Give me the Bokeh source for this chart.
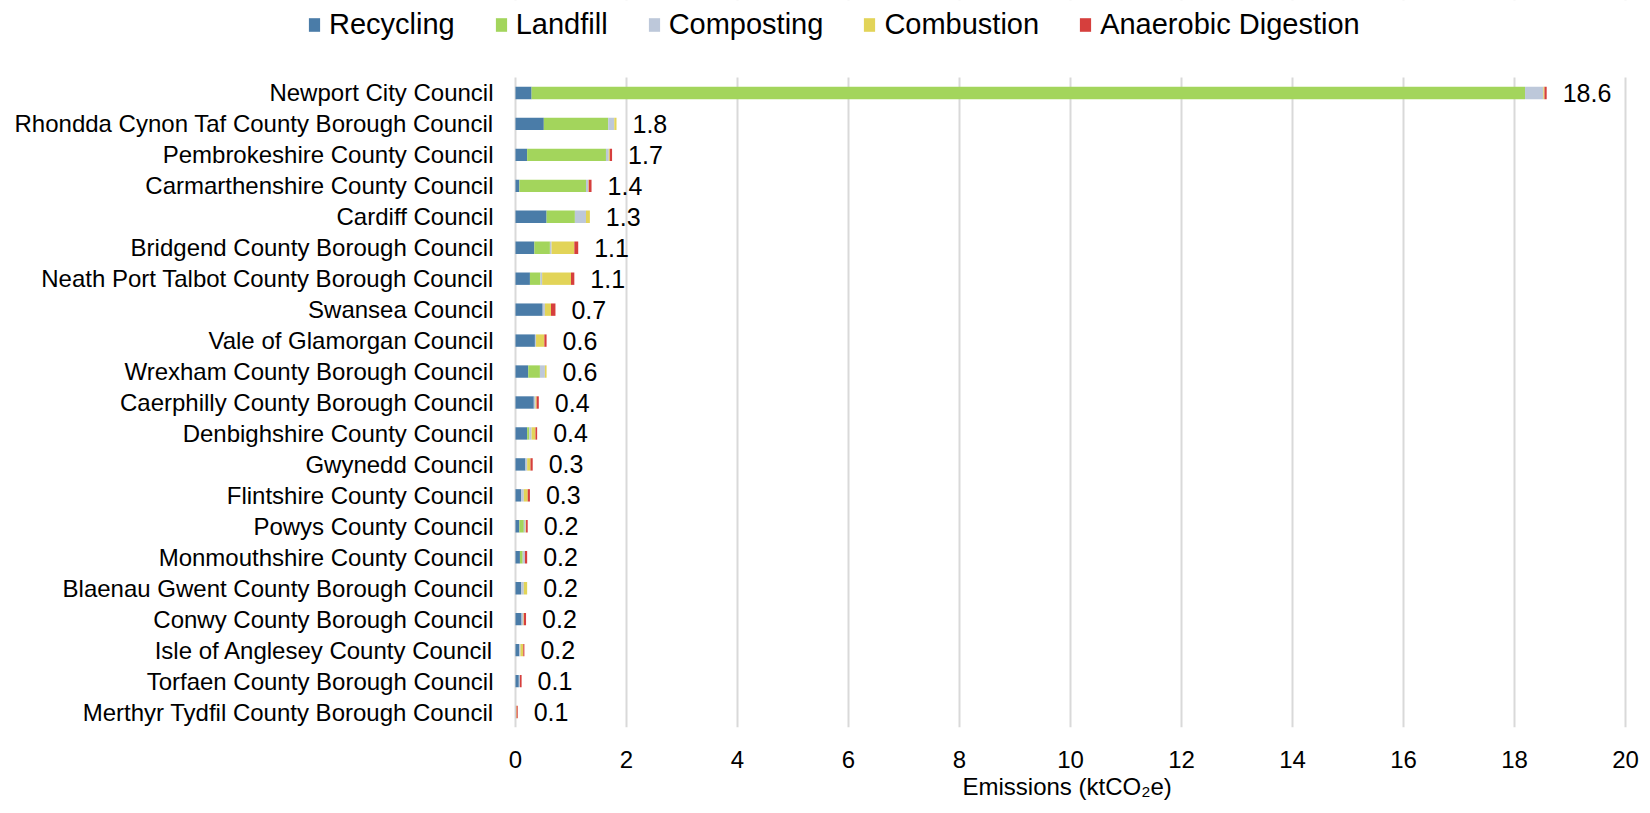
from bokeh.plotting import figure
from bokeh.models import ColumnDataSource, Range1d, Legend, LegendItem, FixedTicker, BoxAnnotation, Title
from bokeh.core.properties import value
from bokeh.embed import file_html
from bokeh.resources import INLINE

councils = [
    "Newport City Council",
    "Rhondda Cynon Taf County Borough Council",
    "Pembrokeshire County Council",
    "Carmarthenshire County Council",
    "Cardiff Council",
    "Bridgend County Borough Council",
    "Neath Port Talbot County Borough Council",
    "Swansea Council",
    "Vale of Glamorgan Council",
    "Wrexham County Borough Council",
    "Caerphilly County Borough Council",
    "Denbighshire County Council",
    "Gwynedd Council",
    "Flintshire County Council",
    "Powys County Council",
    "Monmouthshire County Council",
    "Blaenau Gwent County Borough Council",
    "Conwy County Borough Council",
    "Isle of Anglesey County Council",
    "Torfaen County Borough Council",
    "Merthyr Tydfil County Borough Council",
]

recycling = [0.29, 0.51, 0.21, 0.07, 0.56, 0.34, 0.26, 0.49, 0.35, 0.23, 0.33,
             0.21, 0.18, 0.10, 0.07, 0.08, 0.10, 0.11, 0.07, 0.06, 0.00]
landfill = [17.90, 1.16, 1.42, 1.20, 0.51, 0.28, 0.19, 0.00, 0.00, 0.21, 0.00,
            0.04, 0.00, 0.00, 0.08, 0.05, 0.00, 0.00, 0.00, 0.00, 0.00]
composting = [0.33, 0.11, 0.05, 0.04, 0.20, 0.03, 0.03, 0.04, 0.02, 0.09, 0.03,
              0.04, 0.03, 0.05, 0.03, 0.04, 0.05, 0.03, 0.02, 0.02, 0.01]
combustion = [0.02, 0.04, 0.02, 0.01, 0.07, 0.41, 0.52, 0.11, 0.15, 0.03, 0.02,
              0.07, 0.06, 0.07, 0.01, 0.00, 0.06, 0.01, 0.05, 0.00, 0.01]
anaerobic = [0.04, 0.00, 0.04, 0.05, 0.00, 0.07, 0.06, 0.08, 0.04, 0.00, 0.04,
             0.03, 0.04, 0.04, 0.03, 0.04, 0.00, 0.04, 0.02, 0.03, 0.02]
total_labels = ["18.6", "1.8", "1.7", "1.4", "1.3", "1.1", "1.1", "0.7", "0.6", "0.6", "0.4",
                "0.4", "0.3", "0.3", "0.2", "0.2", "0.2", "0.2", "0.2", "0.1", "0.1"]

series_names = ["Recycling", "Landfill", "Composting", "Combustion", "Anaerobic Digestion"]
series_keys = ["recycling", "landfill", "composting", "combustion", "anaerobic"]
colors = ["#4a7ca8", "#a3d55c", "#bdc8da", "#e2d458", "#d63f3d"]
x_ticks = list(range(0, 21, 2))
x_title = "Emissions (ktCO₂e)"

FONT = "Liberation Sans"

n = len(councils)
row_pos = [n - 1 - i for i in range(n)]          # first council at the top
totals = [r + l + c + b + a for r, l, c, b, a in zip(recycling, landfill, composting, combustion, anaerobic)]

source = ColumnDataSource(dict(
    council=councils, pos=row_pos, recycling=recycling, landfill=landfill, composting=composting,
    combustion=combustion, anaerobic=anaerobic, total=totals, label=total_labels,
))

# Layout geometry (pixels): bar area spans x 515..1625 and y 77..727 of the page
W, H = 1642, 813
BOTTOM = 86
left_px, right_px = 515, 1625
top_rows_px, bottom_px = 77, 727
px_per_x = (right_px - left_px) / (x_ticks[-1] - x_ticks[0])
px_per_row = (bottom_px - top_rows_px) / n

x_range = Range1d(x_ticks[0] - left_px / px_per_x, x_ticks[-1] + (W - right_px) / px_per_x)
y_range = Range1d(-0.5, -0.5 + bottom_px / px_per_row)

p = figure(
    width=W, height=H, x_range=x_range, y_range=y_range, y_axis_type=None,
    output_backend="svg", toolbar_location=None,
    min_border_left=0, min_border_right=0, min_border_top=0, min_border_bottom=BOTTOM,
)
p.outline_line_color = None

renderers = p.hbar_stack(series_keys, y="pos", height=0.4, source=source,
                         fill_color=colors, line_color=None)

# value labels
p.text(x="total", y="pos", text="label", source=source, x_offset=16,
       text_baseline="middle", text_align="left", text_font=value(FONT),
       text_font_size="25px", text_color="#000000")

# category labels
p.text(x=x_ticks[0], y="pos", text="council", source=source, x_offset=-22,
       text_baseline="middle", text_align="right", text_font=value(FONT),
       text_font_size="24px", text_color="#000000")

p.xgrid.grid_line_color = "#d9d9d9"
p.xgrid.grid_line_width = 2

# white band above the bars so that grid lines stop at the top of the bar area
p.add_layout(BoxAnnotation(bottom=n - 0.5, fill_color="white", fill_alpha=1.0,
                           line_color=None))

legend = Legend(
    items=[LegendItem(label=nm, renderers=[r]) for nm, r in zip(series_names, renderers)],
    orientation="horizontal", location=(307, 686),
    glyph_width=14, glyph_height=17, label_standoff=8, spacing=39,
    padding=0, margin=0, border_line_color=None, background_fill_alpha=0,
    label_text_font=FONT, label_text_font_size="29px", label_text_color="#000000",
)
p.add_layout(legend, "center")

p.xaxis.ticker = FixedTicker(ticks=x_ticks)
p.xaxis.axis_line_color = None
p.xaxis.major_tick_line_color = None
p.xaxis.minor_tick_line_color = None
p.xaxis.major_tick_out = 0
p.xaxis.major_label_text_font = FONT
p.xaxis.major_label_text_color = "#000000"
p.xaxis.major_label_text_font_size = "24px"
p.xaxis.major_label_standoff = 23

# axis title placed under the middle of the bar area (not the whole canvas)
title = Title(text=x_title, align="left", offset=962,
              text_font=FONT, text_font_size="24px", text_font_style="normal",
              text_color="#000000", standoff=0)
p.add_layout(title, "below")

open("out.html", "w").write(file_html(p, INLINE))
